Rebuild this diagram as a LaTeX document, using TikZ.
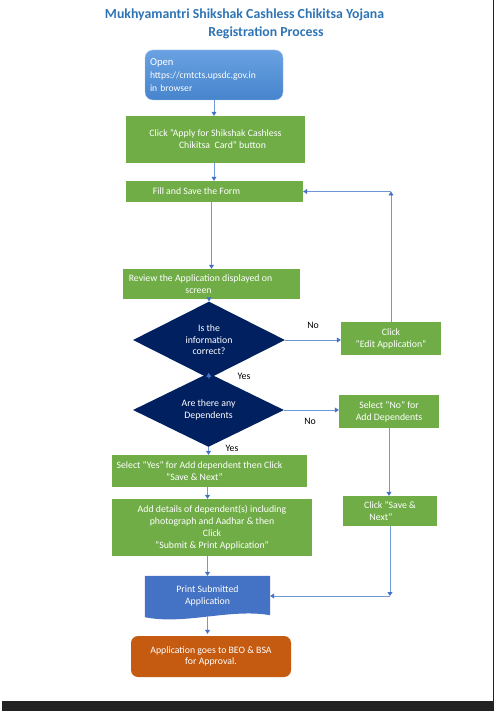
\documentclass[tikz,border=0pt]{standalone}
\usepackage{fontspec}
\setmainfont{Carlito}
\usepackage{tikz}
\usetikzlibrary{shapes.geometric, backgrounds, calc, arrows.meta}
\usepackage{xcolor}
\definecolor{color1}{RGB}{46, 116, 181}
\definecolor{color2}{RGB}{112, 173, 71}
\definecolor{color3}{RGB}{0, 32, 96}
\definecolor{color4}{RGB}{68, 114, 196}
\definecolor{color5}{RGB}{197, 90, 17}
\definecolor{color6}{RGB}{110, 152, 216}
\definecolor{color7}{RGB}{34, 34, 34}
\definecolor{color8}{RGB}{105, 162, 226}
\definecolor{color9}{RGB}{70, 132, 204}
\tikzset{
  greenbox/.style={rectangle, fill=color2, text=white, align=center, inner sep=2pt, font=\fontsize{9.8}{12}\selectfont},
  decision/.style={diamond, fill=color3, text=white, align=center, inner sep=0pt, font=\fontsize{9.8}{11.5}\selectfont},
  flow/.style={draw=color6, line width=0.8pt, -{Triangle[width=5pt, length=4pt, color=color4]}},
  answer/.style={text=black, font=\fontsize{9.8}{11}\selectfont}
}

\begin{document}
\begin{tikzpicture}[x=1pt, y=-1pt]
        \useasboundingbox (0, 0) rectangle (496, 711);
        % title
        \node (title) [text=color1, font=\bfseries\fontsize{13.8}{15}\selectfont] at (244.5, 15) {Mukhyamantri Shikshak Cashless Chikitsa Yojana};
        \node (subtitle) [text=color1, font=\bfseries\fontsize{13.8}{15}\selectfont] at (266, 33) {Registration Process};
        % boxes
        \node (open) [rectangle, rounded corners=8pt, top color=color8, bottom color=color9, draw=color6!60!white, text=white, align=left, text width=128pt, minimum height=50pt, inner sep=5pt, font=\fontsize{9.6}{12.8}\selectfont] at (214, 75) {{\fontsize{10.6}{12.8}\selectfont Open}\\https://cmtcts.upsdc.gov.in\\in browser};
        \node (apply) [greenbox, minimum width=179pt, minimum height=47pt] at (215.5, 139.5) {Click "Apply for Shikshak Cashless\\\hspace*{14pt}Chikitsa\ \ Card" button};
        \node (fill) [greenbox, minimum width=177pt, minimum height=21pt] at (214.5, 191.5) {Fill and Save the Form\hspace*{36pt}};
        \node (review) [greenbox, minimum width=177pt, minimum height=30pt] at (211.5, 284) {Review the Application displayed on\hspace*{22pt}\\screen\hspace*{26pt}};
        \node (q1) [decision, minimum width=152pt, minimum height=56pt] at (209, 340) {Is the\\information\\correct?};
        \node (edit) [greenbox, minimum width=100pt, minimum height=33pt] at (391, 338.5) {Click\\"Edit Application"};
        \node (q2) [decision, minimum width=151pt, minimum height=62pt] at (208.5, 410) {Are there any\\Dependents};
        \node (selno) [greenbox, minimum width=100pt, minimum height=33pt] at (389, 411.5) {Select "No" for\\Add Dependents};
        \node (selyes) [greenbox, minimum width=195pt, minimum height=32pt] at (209.5, 471) {Select "Yes" for Add dependent then Click\hspace*{20pt}\\"Save \& Next"\hspace*{30pt}};
        \node (details) [greenbox, minimum width=200pt, minimum height=57pt] at (212, 527.5) {Add details of dependent(s) including\\photograph and Aadhar \& then\\Click\\"Submit \& Print Application"};
        \node (save) [greenbox, minimum width=94pt, minimum height=30pt] at (390, 511) {Click "Save \&\\Next"\hspace*{18pt}};
        \node (print) [rectangle, text=white, align=center, minimum width=125pt, minimum height=40pt, font=\fontsize{9.8}{11.5}\selectfont] at (207.5, 596) {Print Submitted\\Application};
        \node (approval) [rectangle, rounded corners=7pt, fill=color5, text=white, align=center, minimum width=160pt, minimum height=41pt, font=\fontsize{9.8}{11}\selectfont] at (211, 656.5) {Application goes to BEO \& BSA\\for Approval.};
        \begin{scope}[on background layer]
            \fill[color4] (print.north west) -- (print.north east) -- ($(print.south east)+(0,-1)$)
                .. controls ($(print.south east)+(-40,-8)$) and ($(print.south west)+(40,9)$) .. ($(print.south west)+(0,1)$) -- cycle;
        \end{scope}
        % connectors
        \coordinate (c1) at (edit.north |- fill.east);
        \coordinate (c2) at (save.south |- print.east);
        \draw[flow] (open.south) -- (open.south |- apply.north);
        \draw[flow] (apply.south -| open.south) -- (open.south |- fill.north);
        \draw[flow] (fill.south -| review.north) -- (review.north);
        \draw[flow] (review.south -| q1.north) -- (q1.north);
        \draw[flow] (q1.south) -- (q2.north);
        \draw[flow] (q2.south) -- (q2.south |- selyes.north);
        \draw[flow] (selyes.south -| print.north) -- (print.north |- details.north);
        \draw[flow] (details.south -| print.north) -- (print.north);
        \draw[flow] (print.south) -- ($(print.south |- approval.north)+(0,-2)$);
        \draw[flow] (q1.east) -- (q1.east -| edit.west);
        \draw[flow] (edit.north) -- (c1);
        \draw[flow] (c1) -- (fill.east);
        \draw[flow] (q2.east) -- (q2.east -| selno.west);
        \draw[flow] (selno.south) -- (selno.south |- save.north);
        \draw[flow] (save.south) -- (c2);
        \draw[flow] (c2) -- (print.east);
        % answers
        \node (no1) [answer] at (313, 325) {No};
        \node (yes1) [answer] at (244, 376) {Yes};
        \node (no2) [answer] at (310, 421) {No};
        \node (yes2) [answer] at (232, 448) {Yes};
        % page edge
        \fill[color7] (2, 701) rectangle (493, 711);
        \draw[color7, line width=1pt] (493, 0) -- (493, 711);
\end{tikzpicture}
\end{document}
